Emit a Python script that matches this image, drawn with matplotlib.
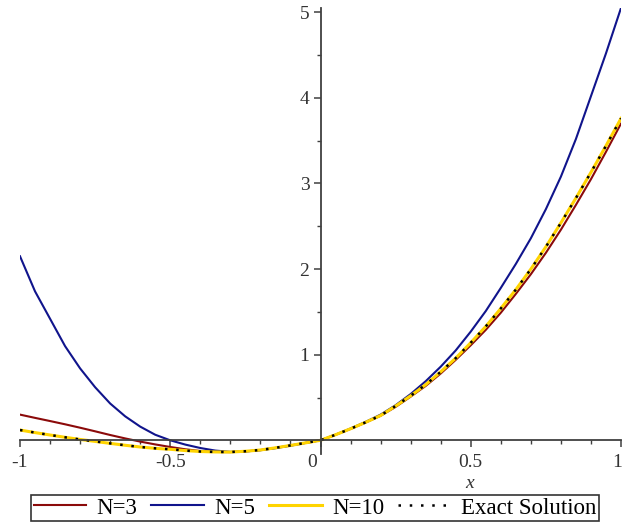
import matplotlib
matplotlib.use("Agg")
import matplotlib.pyplot as plt
from matplotlib.ticker import MultipleLocator, FixedLocator
import matplotlib.transforms as mtransforms

plt.rcParams['font.family'] = ['Liberation Serif', 'DejaVu Serif']

x = [-1.00, -0.95, -0.90, -0.85, -0.80, -0.75, -0.70, -0.65, -0.60, -0.55,
     -0.50, -0.45, -0.40, -0.35, -0.30, -0.25, -0.20, -0.15, -0.10, -0.05,
     0.00, 0.05, 0.10, 0.15, 0.20, 0.25, 0.30, 0.35, 0.40, 0.45,
     0.50, 0.55, 0.60, 0.65, 0.70, 0.75, 0.80, 0.85, 0.90, 0.95, 1.00]

n3 = [0.300, 0.262, 0.225, 0.187, 0.147, 0.105, 0.062, 0.022, -0.015, -0.048,
      -0.078, -0.105, -0.125, -0.136, -0.138, -0.130, -0.114, -0.089, -0.060, -0.030,
      0.000, 0.064, 0.133, 0.207, 0.286, 0.390, 0.510, 0.635, 0.780, 0.940,
      1.110, 1.290, 1.490, 1.710, 1.940, 2.190, 2.460, 2.750, 3.050, 3.370, 3.700]

n5 = [2.150, 1.740, 1.420, 1.100, 0.840, 0.620, 0.430, 0.280, 0.160, 0.065,
      0.000, -0.050, -0.090, -0.120, -0.135, -0.130, -0.116, -0.092, -0.063, -0.031,
      0.000, 0.066, 0.138, 0.215, 0.300, 0.410, 0.540, 0.690, 0.860, 1.050,
      1.270, 1.510, 1.780, 2.060, 2.360, 2.700, 3.080, 3.520, 4.020, 4.520, 5.050]

n10 = [0.120, 0.090, 0.062, 0.035, 0.010, -0.013, -0.036, -0.058, -0.078, -0.094,
       -0.105, -0.120, -0.131, -0.136, -0.137, -0.128, -0.113, -0.088, -0.060, -0.030,
       0.000, 0.065, 0.135, 0.210, 0.290, 0.400, 0.520, 0.650, 0.800, 0.960,
       1.140, 1.330, 1.540, 1.760, 2.000, 2.260, 2.540, 2.830, 3.130, 3.440, 3.760]

exact = [0.120, 0.090, 0.062, 0.035, 0.010, -0.013, -0.036, -0.058, -0.078, -0.094,
         -0.105, -0.120, -0.131, -0.136, -0.137, -0.128, -0.113, -0.088, -0.060, -0.030,
         0.000, 0.065, 0.135, 0.210, 0.290, 0.400, 0.520, 0.650, 0.800, 0.960,
         1.140, 1.330, 1.540, 1.760, 2.000, 2.260, 2.540, 2.830, 3.130, 3.440, 3.760]

labels = ["N=3", "N=5", "N=10", "Exact Solution"]
xticks = [-1, -0.5, 0, 0.5, 1]
xtick_labels = ["-1", "-0.5", "0", "0.5", "1"]
yticks = [1, 2, 3, 4, 5]
ytick_labels = ["1", "2", "3", "4", "5"]

W, H = 622, 529
fig = plt.figure(figsize=(W / 100, H / 100), dpi=100)
ax = fig.add_axes([20 / W, 1 - 454 / H, (621 - 20) / W, (454 - 8) / H])

ax.plot(x, n3, color="#8b0a0a", lw=1.5, label=labels[0])
ax.plot(x, n5, color="#10148c", lw=1.5, label=labels[1])
ax.plot(x, n10, color="#ffd400", lw=2.2, label=labels[2])
ax.plot(x, exact, color="black", lw=1.8, linestyle=(0, (1, 3.5)), label=labels[3])

ax.set_xlim(-1, 1)
ax.set_ylim(-0.16, 5.05)

for s in ["top", "right"]:
    ax.spines[s].set_visible(False)
ax.spines["left"].set_position(("data", 0))
ax.spines["bottom"].set_position(("data", 0))
for s in ["left", "bottom"]:
    ax.spines[s].set_color("#404040")
    ax.spines[s].set_linewidth(1.3)

ax.xaxis.set_major_locator(FixedLocator(xticks))
ax.set_xticklabels(xtick_labels)
ax.xaxis.set_minor_locator(MultipleLocator(0.1))
ax.yaxis.set_major_locator(FixedLocator(yticks))
ax.set_yticklabels(ytick_labels)
ax.yaxis.set_minor_locator(MultipleLocator(0.5))
ax.tick_params(which="major", direction="out", length=5, width=1.1, color="#404040",
               labelsize=14, labelcolor="#333333", pad=3)
ax.tick_params(which="minor", direction="out", length=3, width=1.0, color="#404040")
ax.tick_params(axis="x", pad=5)

for t in ax.get_xticklabels():
    if t.get_text() == "0":
        # Maple places the "0" label to the left of the vertical axis
        t.set_horizontalalignment("right")
        t.set_transform(t.get_transform() + mtransforms.ScaledTranslation(-3 / 100, 0, fig.dpi_scale_trans))
    if t.get_text() == "1":
        t.set_horizontalalignment("right")
        t.set_transform(t.get_transform() + mtransforms.ScaledTranslation(1 / 100, 0, fig.dpi_scale_trans))

fig.text(470 / W, 1 - 484 / H, "x", fontsize=14, style="italic", color="#333333",
         ha="center", va="center")

leg = fig.legend(loc="center", bbox_to_anchor=(315 / W, 1 - 508 / H), ncol=4,
                 frameon=True, fancybox=False, edgecolor="black", fontsize=16.5,
                 handlelength=2.3, handletextpad=0.45, columnspacing=0.6,
                 borderpad=0.12, borderaxespad=0)
leg.get_frame().set_linewidth(1.2)

fig.savefig("out.png", dpi=100)
